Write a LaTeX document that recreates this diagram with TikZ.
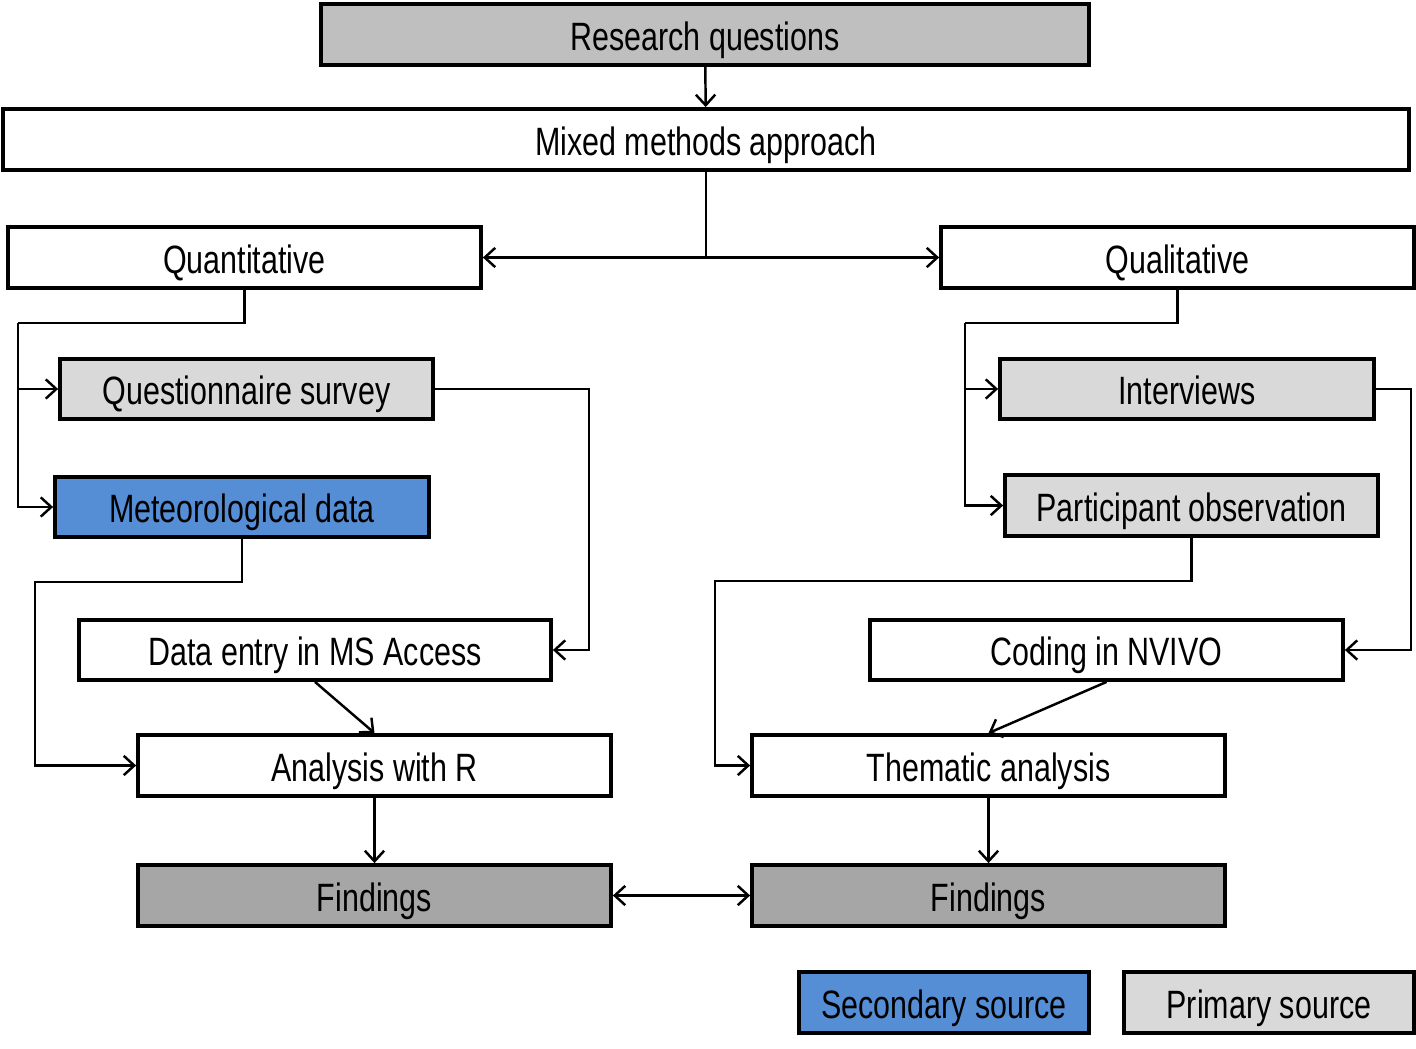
\documentclass[tikz,border=0pt]{standalone}
\usepackage{fontspec}
\setmainfont[FakeStretch=0.77]{Liberation Sans}
\usepackage{tikz}
\usetikzlibrary{arrows.meta, positioning}

\definecolor{rqGray}{HTML}{BFBFBF}
\definecolor{primGray}{HTML}{D9D9D9}
\definecolor{findGray}{HTML}{A6A6A6}
\definecolor{secBlue}{HTML}{558ED5}

\begin{document}
\begin{tikzpicture}[
    x=0.02cm, y=-0.02cm,
    box/.style={draw, line width=2.2pt, rectangle, fill=white, minimum height=1.22cm, minimum width=9.46cm, inner sep=0pt, text height=20pt, text depth=2pt, font=\fontsize{22.5}{26}\selectfont},
    primary/.style={box, fill=primGray},
    secondary/.style={box, fill=secBlue},
    findbox/.style={box, fill=findGray},
    arr/.style={line width=1.4pt, -{Straight Barb[length=6pt, width=11pt, line width=1.4pt]}},
    biarr/.style={line width=1.4pt, {Straight Barb[length=6pt, width=11pt, line width=1.4pt]}-{Straight Barb[length=6pt, width=11pt, line width=1.4pt]}},
    link/.style={line width=1.4pt}
]

\useasboundingbox (0,0) rectangle (1416,1048);

% top of the flow
\node[box, fill=rqGray, minimum width=15.36cm] (researchQ) at (705,34.5) {Research questions};
\node[box, minimum width=28.12cm] (mixedMethods) at (706,139.5) {Mixed methods approach};
\node[box] (quantitative) at (244.5,257.5) {Quantitative};
\node[box] (qualitative) at (1177.5,257.5) {Qualitative};

% left branch
\node[primary, minimum width=7.46cm, minimum height=1.2cm] (questionnaire) at (246.5,389) {Questionnaire survey};
\node[secondary, minimum width=7.48cm, minimum height=1.2cm] (meteoData) at (242,507) {Meteorological data};
\node[box, minimum width=9.44cm, minimum height=1.2cm] (dataEntry) at (315,650) {Data entry in MS Access};
\node[box] (analysisR) at (374.5,765.5) {Analysis with R};
\node[findbox] (findingsL) at (374.5,895.5) {Findings};

% right branch
\node[primary, minimum width=7.48cm, minimum height=1.2cm] (interviews) at (1187,389) {Interviews};
\node[primary, minimum width=7.46cm] (partObs) at (1191.5,505.5) {Participant observation};
\node[box, minimum height=1.2cm] (codingNvivo) at (1106.5,650) {Coding in NVIVO};
\node[box] (thematic) at (988.5,765.5) {Thematic analysis};
\node[findbox] (findingsR) at (988.5,895.5) {Findings};

% legend
\node[secondary, minimum width=5.8cm] (legendSec) at (944,1002.5) {Secondary source};
\node[primary, minimum width=5.8cm] (legendPrim) at (1269,1002.5) {Primary source};

% bends of the elbow connectors
\coordinate (quantBus) at (18,323);
\coordinate (qualBus) at (965,323);
\coordinate (questBus) at (589,389);
\coordinate (meteoBus) at (35,582);
\coordinate (interBus) at (1411,389);
\coordinate (partBus) at (715,581);

\draw[arr] (researchQ) -- (mixedMethods);
\draw[arr] (mixedMethods.south) |- (quantitative.east);
\draw[arr] (mixedMethods.south) |- (qualitative.west);

\draw[link] (quantitative.south) |- (quantBus);
\draw[arr] (quantBus) |- (meteoData.west);
\draw[arr] (quantBus |- questionnaire.west) -- (questionnaire.west);
\draw[arr] (questionnaire.east) -| (questBus) |- (dataEntry.east);
\draw[arr] (meteoData.south) |- (meteoBus) |- (analysisR.west);
\draw[arr] (dataEntry.south) -- (analysisR.north);
\draw[arr] (analysisR) -- (findingsL);

\draw[link] (qualitative.south) |- (qualBus);
\draw[arr] (qualBus) |- (partObs.west);
\draw[arr] (qualBus |- interviews.west) -- (interviews.west);
\draw[arr] (interviews.east) -| (interBus) |- (codingNvivo.east);
\draw[arr] (partObs.south) |- (partBus) |- (thematic.west);
\draw[arr] (codingNvivo.south) -- (thematic.north);
\draw[arr] (thematic) -- (findingsR);

\draw[biarr] (findingsL) -- (findingsR);

\end{tikzpicture}
\end{document}
